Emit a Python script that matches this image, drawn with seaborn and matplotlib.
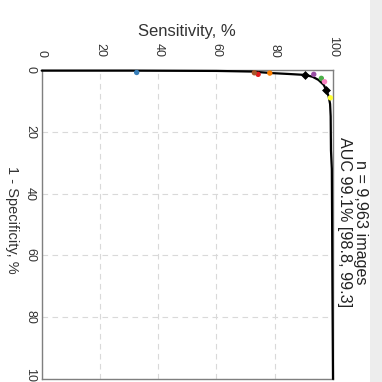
import matplotlib
matplotlib.use("Agg")
import matplotlib.pyplot as plt
import seaborn as sns
import pandas as pd
from matplotlib.patches import Rectangle

# ROC curve (sensitivity %, 1 - specificity %)
curve_sens = [0, 30, 60, 72, 79, 85, 90.5, 93, 95, 96.8, 97.7, 98.5, 99.0, 99.2, 99.3, 99.3, 99.6, 99.7, 99.8, 100]
curve_fpr = [0.2, 0.2, 0.3, 0.5, 1.0, 1.3, 1.6, 2.2, 3.2, 4.8, 6.5, 8.5, 11, 15, 22, 30, 32, 50, 70, 100]

# operating points on the curve (black diamonds)
op_sens = [90.5, 97.7]
op_fpr = [1.6, 6.5]

# individual readers
readers = ["Reader 1", "Reader 2", "Reader 3", "Reader 4", "Reader 5", "Reader 6", "Reader 7", "Reader 8"]
reader_sens = [74.3, 32.6, 96.0, 93.4, 78.3, 99.1, 73.0, 97.1]
reader_fpr = [1.4, 0.8, 2.7, 1.4, 1.0, 9.0, 0.9, 3.8]

ticks = [0, 20, 40, 60, 80, 100]
title_text = "n = 9,963 images\nAUC 99.1% [98.8, 99.3]"

sns.set_theme(style="white")
plt.rcParams["font.family"] = ["Liberation Sans", "DejaVu Sans"]

fig = plt.figure(figsize=(3.82, 3.82), dpi=100)
fig.patch.set_facecolor("white")
# light shadow band at right edge
fig.patches.append(Rectangle((370 / 382, 0), 12 / 382, 1, transform=fig.transFigure,
                             facecolor="#ededed", edgecolor="none", zorder=0))

ax = fig.add_axes([41.7 / 382, 1 - 379 / 382, 291.3 / 382, 309 / 382])

ax.grid(True, color="#d9d9d9", linestyle=(0, (5, 4)), linewidth=0.8)

curve = pd.DataFrame({"sens": curve_sens, "fpr": curve_fpr})
sns.lineplot(data=curve, x="sens", y="fpr", sort=False, color="black", linewidth=1.6, ax=ax,
             clip_on=False, zorder=3)

ops = pd.DataFrame({"sens": op_sens, "fpr": op_fpr})
sns.scatterplot(data=ops, x="sens", y="fpr", marker="D", color="black", s=16, ax=ax,
                edgecolor="black", linewidth=0.5, zorder=4)

rd = pd.DataFrame({"reader": readers, "sens": reader_sens, "fpr": reader_fpr})
sns.scatterplot(data=rd, x="sens", y="fpr", hue="reader", palette="Set1", s=15, ax=ax,
                edgecolor="none", legend=False, zorder=5, clip_on=False)

ax.set_xlim(0, 100)
ax.set_ylim(100, 0)
ax.set_xticks(ticks)
ax.set_yticks(ticks)
ax.xaxis.tick_top()
ax.xaxis.set_label_position("top")
ax.set_xticklabels([str(t) for t in ticks], rotation=-90)
ax.set_yticklabels([str(t) for t in ticks], rotation=-90)
ax.tick_params(axis="x", length=0, pad=9, labelsize=9, labelcolor="#333333")
ax.tick_params(axis="y", length=0, pad=4, labelsize=9, labelcolor="#333333")
for lab in ax.get_yticklabels():
    lab.set_verticalalignment("center")

ax.set_xlabel("Sensitivity, %", fontsize=12, color="#333333")
ax.xaxis.set_label_coords(0.5, 1.126)
ax.xaxis.label.set_verticalalignment("center")
ax.set_ylabel("1 - Specificity, %", fontsize=10.5, color="#333333", rotation=-90)
ax.yaxis.set_label_coords(-0.102, 0.515)
ax.yaxis.label.set_verticalalignment("center")
ax.yaxis.label.set_horizontalalignment("center")

for sp in ax.spines.values():
    sp.set_color("#7f7f7f")
    sp.set_linewidth(1.0)
    sp.set_visible(True)

fig.text(352.5 / 382, 1 - 222 / 382, title_text, rotation=-90, ha="center", va="center",
         multialignment="center", fontsize=11.6, color="#222222", linespacing=1.15)

fig.savefig("out.png", dpi=100)
